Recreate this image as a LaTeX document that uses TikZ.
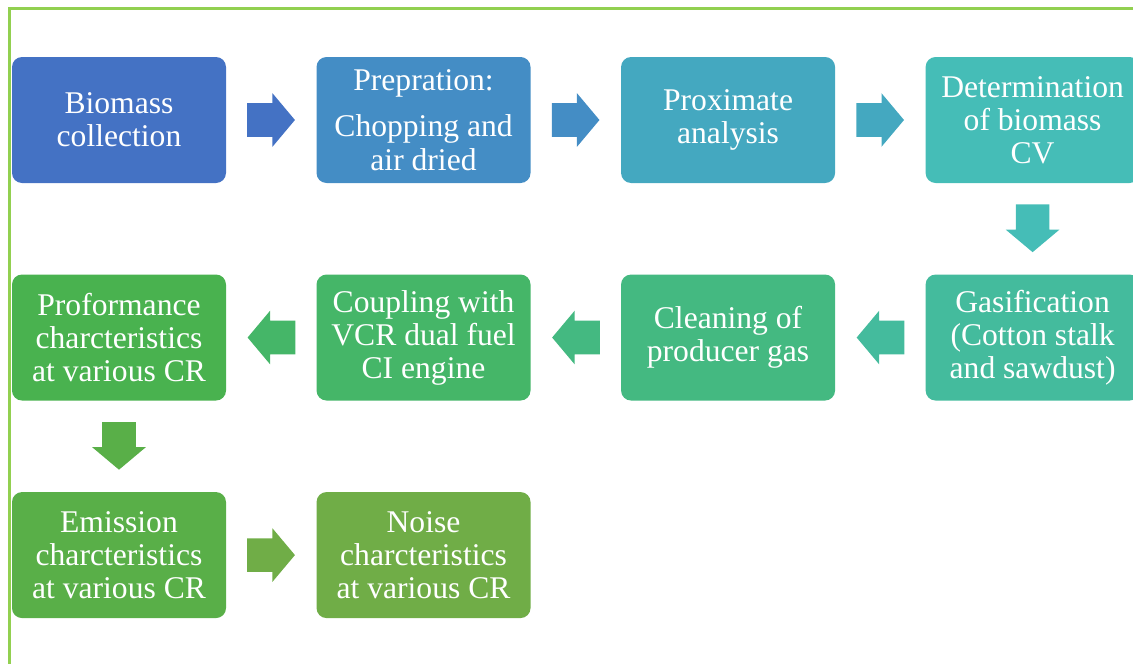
\documentclass[tikz,border=0pt]{standalone}
\usepackage{fontspec}
\setmainfont{Liberation Serif}
\usetikzlibrary{positioning,shapes.arrows,calc}
\definecolor{cA}{HTML}{4472C4}
\definecolor{cB}{HTML}{448DC5}
\definecolor{cC}{HTML}{44A8C0}
\definecolor{cD}{HTML}{45BDB7}
\definecolor{cE}{HTML}{44BB9D}
\definecolor{cF}{HTML}{44B981}
\definecolor{cG}{HTML}{45B668}
\definecolor{cH}{HTML}{49B24F}
\definecolor{cI}{HTML}{59AF48}
\definecolor{cJ}{HTML}{70AD47}
\definecolor{framegreen}{HTML}{92D050}
\tikzset{
  stage/.style={rectangle,rounded corners=7.5pt,fill=#1,text=white,
    minimum width=160.5pt,minimum height=94.5pt,inner sep=0pt,align=center,
    font=\fontsize{23.7}{24.8}\selectfont},
  blockarrow/.style={single arrow,fill=#1,inner sep=12.4pt,anchor=tail,
    minimum height=34.5pt,minimum width=39.75pt,
    single arrow head extend=7.5pt,single arrow tip angle=100},
  frame/.style={draw=framegreen,line width=2.2pt}
}
\begin{document}
\begin{tikzpicture}[x=0.75pt,y=-0.75pt,node distance=67.5pt and 67.5pt]
\useasboundingbox (0,0) rectangle (1133,664);
%frame
\draw[frame](9.3,664)--(9.3,8.3)--(1133,8.3);
%boxes row 1
\node[stage=cA](collect) at (119,120){Biomass\\collection};
\node[stage=cB,right=of collect](prep){Prepration:\\[10pt]Chopping and\\air dried};
\node[stage=cC,right=of prep](prox){Proximate\\analysis};
\node[stage=cD,right=of prox](cv){Determination\\of biomass\\CV};
%boxes row 2
\node[stage=cE,below=68.25pt of cv](gasif){Gasification\\(Cotton stalk\\and sawdust)};
\node[stage=cF,left=of gasif](clean){Cleaning of\\producer gas};
\node[stage=cG,left=of clean](couple){Coupling with\\VCR dual fuel\\CI engine};
\node[stage=cH,left=of couple](perf){Proformance\\charcteristics\\at various CR};
%boxes row 3
\node[stage=cI,below=68.25pt of perf](emis){Emission\\charcteristics\\at various CR};
\node[stage=cJ,right=of emis](noise){Noise\\charcteristics\\at various CR};
%arrows
\node[blockarrow=cA] (a1) at ($(collect.east)!.23!(prep.west)$){};
\node[blockarrow=cB] (a2) at ($(prep.east)!.23!(prox.west)$){};
\node[blockarrow=cC] (a3) at ($(prox.east)!.23!(cv.west)$){};
\node[blockarrow=cD,shape border rotate=270] (a4) at ($(cv.south)!.23!(gasif.north)$){};
\node[blockarrow=cE,shape border rotate=180] (a5) at ($(gasif.west)!.23!(clean.east)$){};
\node[blockarrow=cF,shape border rotate=180] (a6) at ($(clean.west)!.23!(couple.east)$){};
\node[blockarrow=cG,shape border rotate=180] (a7) at ($(couple.west)!.23!(perf.east)$){};
\node[blockarrow=cI,shape border rotate=270] (a8) at ($(perf.south)!.23!(emis.north)$){};
\node[blockarrow=cJ] (a9) at ($(emis.east)!.23!(noise.west)$){};
\end{tikzpicture}
\end{document}
